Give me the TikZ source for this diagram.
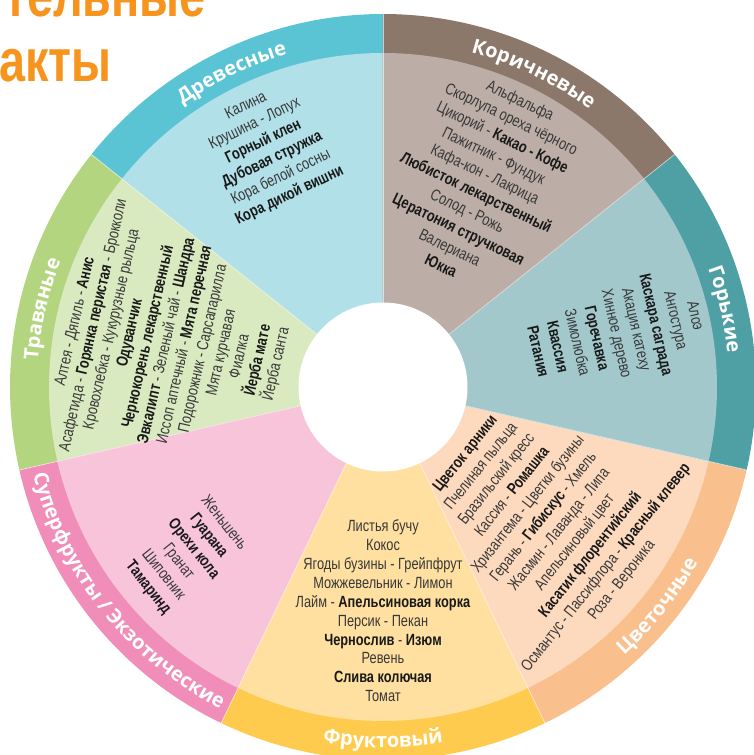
\documentclass[tikz,border=0pt]{standalone}
\usepackage{fontspec}
\usepackage{xcolor}
\usetikzlibrary{decorations.text}
\setmainfont{Liberation Sans}
\newfontfamily\itemfont{Liberation Sans}[FakeStretch=0.79]
\newfontfamily\ringfont{Open Sans}
\newfontfamily\titlefont{Liberation Sans}[FakeStretch=0.78]
\definecolor{woodring}{HTML}{5BC4D4}
\definecolor{woodfill}{HTML}{B2E0E9}
\definecolor{brownring}{HTML}{8C776B}
\definecolor{brownfill}{HTML}{BCAEA6}
\definecolor{bitterring}{HTML}{4FA0A4}
\definecolor{bitterfill}{HTML}{A2C8CC}
\definecolor{flowerring}{HTML}{F9C08E}
\definecolor{flowerfill}{HTML}{FDDABD}
\definecolor{fruitring}{HTML}{FFCB4E}
\definecolor{fruitfill}{HTML}{FFE0A1}
\definecolor{exoticring}{HTML}{F08DB9}
\definecolor{exoticfill}{HTML}{F7C4DA}
\definecolor{herbring}{HTML}{B3D57F}
\definecolor{herbfill}{HTML}{D9E9C0}
\definecolor{titleorange}{HTML}{F7941D}
\definecolor{itemgray}{HTML}{383838}
\newcommand\hl[1]{{\bfseries\color{black!90}#1}}
\newcommand\ringtext{\ringfont\bfseries\fontsize{20}{20}\selectfont\color{white}}
\tikzset{
  item/.style={font=\itemfont\fontsize{16.2}{18}\selectfont, text=itemgray, inner sep=0pt, anchor=mid},
  ringlabel/.style={decorate, decoration={text along path, text align=center, text={|\ringtext|#1}}},
  title/.style={font=\titlefont\bfseries\fontsize{60}{60}\selectfont, text=titleorange, inner sep=0pt, anchor=base west},
  sep/.style={white, line width=0.7pt, opacity=0.6}
}

\begin{document}
\begin{tikzpicture}[x=1pt,y=1pt]
\useasboundingbox (-383,-368) rectangle (371,387);

\foreach \a/\ring/\inner in {90/woodring/woodfill, 141.43/herbring/herbfill, 192.86/exoticring/exoticfill, 244.29/fruitring/fruitfill, 295.71/flowerring/flowerfill, 347.14/bitterring/bitterfill, 38.57/brownring/brownfill}{
  \fill[\ring] (0,0) -- (\a:373pt) arc[start angle=\a, delta angle=51.43, radius=373pt] -- cycle;
  \fill[\inner] (0,0) -- (\a:334pt) arc[start angle=\a, delta angle=51.43, radius=334pt] -- cycle;
}
\foreach \k in {0,...,6}
  \draw[sep] ({90+\k*51.43}:84pt) -- ({90+\k*51.43}:373pt);
\fill[white] (0,0) circle[radius=84.5pt];

\path[ringlabel=Древесные] (141.43:346pt) arc[start angle=141.43, end angle=90, radius=346pt];
\path[ringlabel=Травяные] (192.86:346pt) arc[start angle=192.86, end angle=141.43, radius=346pt];
\path[ringlabel=Коричневые] (90:346pt) arc[start angle=90, end angle=38.57, radius=346pt];
\path[ringlabel=Горькие] (38.57:346pt) arc[start angle=38.57, end angle=-12.86, radius=346pt];
\path[ringlabel=Суперфрукты / Экзотические] (192.86:360.5pt) arc[start angle=192.86, end angle=244.29, radius=360.5pt];
\path[ringlabel=Фруктовый] (244.29:360.5pt) arc[start angle=244.29, end angle=295.71, radius=360.5pt];
\path[ringlabel=Цветочные] (295.71:360.5pt) arc[start angle=295.71, end angle=347.14, radius=360.5pt];

\foreach \t [count=\i] in {Калина, Крушина - Лопух, \hl{Горный клен}, \hl{Дубовая стружка}, Кора белой сосны, \hl{Кора дикой вишни}}
  \node[item, rotate=25.71] (wood-\i) at (116:{331-19.9*\i}) {\t};

\foreach \t [count=\i] in {Альфальфа, Скорлупа ореха чёрного, Цикорий - \hl{Какао - Кофе}, Пажитник - Фундук, Кафа-кон - Лакрица, \hl{Любисток лекарственный}, Солод - Рожь, \hl{Цератония стручковая}, Валериана, \hl{Юкка}}
  \node[item, rotate=-25.71] (brown-\i) at (64.4:{335.4-20.4*\i}) {\t};

\foreach \t [count=\i] in {Алоэ, Ангостура, \hl{Каскара саграда}, Акация катеху, Хинное дерево, \hl{Горечавка}, Зимолюбка, \hl{Квассия}, \hl{Ратания}}
  \node[item, rotate=-77.14] (bitter-\i) at (12.86:{338.2-20.2*\i}) {\t};

\foreach \t [count=\i] in {\hl{Цветок арники}, Пчелиная пыльца, Бразильский кресс, Кассия - \hl{Ромашка}, Хризантема - Цветки бузины, Герань - \hl{Гибискус} - Хмель, Жасмин - Лаванда - Липа, Апельсиновый цвет, \hl{Касатик флорентийский}, Османтус - Пассифлора - \hl{Красный клевер}, Роза - Вероника}
  \node[item, rotate=51.43] (flower-\i) at (-39:{87.9+20.1*\i}) {\t};

\foreach \t [count=\i] in {Листья бучу, Кокос, Ягоды бузины - Грейпфрут, Можжевельник - Лимон, Лайм - \hl{Апельсиновая корка}, Персик - Пекан, \hl{Чернослив} - \hl{Изюм}, Ревень, \hl{Слива колючая}, Томат}
  \node[item, rotate=0] (fruit-\i) at (270:{123.1+18.9*\i}) {\t};

\foreach \t [count=\i] in {Женьшень, \hl{Гуарана}, \hl{Орехи кола}, Гранат, Шиповник, \hl{Тамаринд}}
  \node[item, rotate=-51.43] (exotic-\i) at (220.5:{191.1+19.9*\i}) {\t};

\foreach \t [count=\i] in {Алтея - Дягиль - \hl{Анис}, Асафетида - \hl{Горянка перистая} - Брокколи, Кровохлебка - Кукурузные рыльца, \hl{Одуванчик}, \hl{Чернокорень лекарственный}, \hl{Эвкалипт} - Зеленый чай - \hl{Шандра}, Иссоп аптечный - \hl{Мята перечная}, Подорожник - Сарсапарилла, Мята курчавая, Фиалка, \hl{Йерба мате}, Йерба санта}
  \node[item, rotate=77.14] (herb-\i) at (168:{331.7-18.7*\i}) {\t};

\node[title] (title-1) at (-379,370) {тельные};
\node[title] (title-2) at (-384,305) {акты};
\end{tikzpicture}
\end{document}
